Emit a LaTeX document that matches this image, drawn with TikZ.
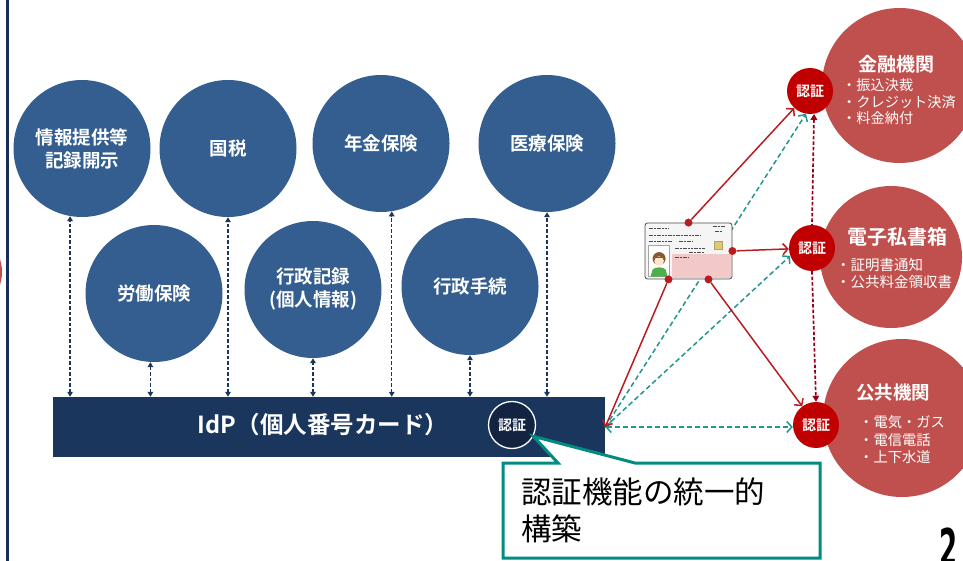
\documentclass[tikz,border=0pt]{standalone}
\usepackage{fontspec}
\setmainfont{Noto Sans CJK JP}[BoldFont={Noto Sans CJK JP Bold}]
\newfontfamily\numfont{DejaVu Sans}
\usetikzlibrary{arrows.meta,positioning}

\definecolor{svcblue}{RGB}{51,94,143}
\definecolor{idpnavy}{RGB}{27,54,93}
\definecolor{rulenavy}{RGB}{25,45,85}
\definecolor{authnavy}{RGB}{18,36,66}
\definecolor{authred}{RGB}{192,0,0}
\definecolor{orgred}{RGB}{192,80,77}
\definecolor{linkred}{RGB}{185,28,32}
\definecolor{chainred}{RGB}{150,0,25}
\definecolor{fedteal}{RGB}{35,150,140}
\definecolor{noteteal}{RGB}{0,140,128}
\definecolor{cardpink}{RGB}{242,200,200}
\definecolor{chipgold}{RGB}{225,200,120}

\tikzset{
  svc/.style={circle, fill=svcblue, minimum size=137pt, inner sep=0pt,
    text=white, align=center, font=\bfseries\fontsize{18.5}{23}\selectfont},
  org/.style={circle, fill=orgred, inner sep=0pt},
  orgtitle/.style={text=white, inner sep=0pt},
  orglist/.style={text=white, align=left, anchor=west, inner sep=0pt},
  auth/.style={circle, fill=authred, minimum size=46pt, inner sep=0pt,
    text=white, font=\bfseries\fontsize{14}{14}\selectfont},
  pin/.style={circle, fill=linkred, minimum size=8pt, inner sep=0pt},
  bus/.style={idpnavy, line width=1.2pt, dash pattern=on 3.5pt off 2pt,
    >={Triangle[length=5pt,width=5.5pt]}, <->},
  link/.style={linkred, line width=1.5pt,
    >={Straight Barb[length=5pt,width=11pt]}, ->},
  fed/.style={fedteal, line width=1.5pt, dash pattern=on 5pt off 3pt,
    >={Straight Barb[length=5pt,width=11pt]}},
  chain/.style={chainred, line width=1.7pt, dash pattern=on 3.5pt off 2pt,
    >={Triangle[length=6pt,width=6.5pt]}},
}

\begin{document}
\begin{tikzpicture}[x=1pt,y=-1pt]
  \path[use as bounding box, clip] (0,0) rectangle (963,561);

  % edge of the page: rule and the previous red circle
  \fill[orgred] (-40,272) circle (42pt);
  \draw[rulenavy, line width=3pt] (7.5,0) -- (7.5,561);

  % services on top of the IdP
  \node[svc] (info) at (82,148.5) {情報提供等\\記録開示};
  \node[svc] (tax) at (228,148.5) {国税};
  \node[svc] (pension) at (381,143.5) {年金保険};
  \node[svc] (medical) at (547,143.5) {医療保険};
  \node[svc] (labour) at (154,293.5) {労働保険};
  \node[svc] (records) at (313,289.5) {行政記録\\(個人情報)};
  \node[svc] (procedure) at (470,286.5) {行政手続};

  \node[fill=idpnavy, minimum width=552pt, minimum height=60pt, inner sep=0pt] (idp) at (329,427) {};
  \node[text=white, font=\bfseries\fontsize{23.5}{23.5}\selectfont] (idplabel) at (323,425) {IdP（個人番号カード）};
  \node[circle, fill=authnavy, draw=white, line width=1.3pt, minimum size=47pt, inner sep=0pt,
    text=white, font=\bfseries\fontsize{14}{14}\selectfont] (idpauth) at (512,425) {認証};

  \foreach \svc/\ang in {info/-100, tax/-90, pension/-81, medical/-90,
                         labour/-93, records/-90, procedure/-90}
    \draw[bus] (\svc.\ang |- idp.north) -- (\svc.\ang); % IdP<->service

  % relying parties
  \node[org, minimum size=155pt] (bank) at (899.5,85.5) {};
  \node[org, minimum size=142pt] (mailbox) at (891,257) {};
  \node[org, minimum size=158pt] (utility) at (902,418) {};

  \node[orgtitle, font=\bfseries\fontsize{19}{19}\selectfont] (banktitle) at (896,64) {金融機関};
  \node[orglist, font=\fontsize{14.2}{16.5}\selectfont] (banklist) at (842,102) {・振込決裁\\・クレジット決済\\・料金納付};
  \node[orgtitle, font=\bfseries\fontsize{20}{20}\selectfont] (mailtitle) at (897,237) {電子私書箱};
  \node[orglist, font=\fontsize{14.5}{17}\selectfont] (maillist) at (836,273.5) {・証明書通知\\・公共料金領収書};
  \node[orgtitle, font=\bfseries\fontsize{18.5}{18.5}\selectfont] (utiltitle) at (893,393) {公共機関};
  \node[orglist, font=\fontsize{14.3}{17.5}\selectfont] (utillist) at (859,440) {・電気・ガス\\・電信電話\\・上下水道};

  \node[auth] (bankauth) at (810,91) {認証};
  \node[auth] (mailauth) at (812,248) {認証};
  \node[auth] (utilauth) at (816,425) {認証};

  \draw[chain, <-] (bankauth.-80) -- (mailauth.north); %% bank<-mailbox
  \draw[chain, ->] (mailauth.south) -- (utilauth.north); %% mailbox->utility

  % federation from the IdP
  \draw[fed, ->] (idp.east) -- (bankauth.-100); %% IdP->bank
  \draw[fed, ->] (idp.east) -- (mailauth.200); %% IdP->mailbox
  \draw[fed, <->] (idp.east) -- (idp.east -| utilauth.west); %% IdP<->utility

  % the card itself
  \node[draw=gray!60!black, fill=gray!8, rounded corners=2.5pt, line width=0.8pt,
    minimum width=87pt, minimum height=56pt, inner sep=0pt] (card) at (688.5,251) {};
  \begin{scope}[shift={(card.north west)}]
    \fill[cardpink] (27,31) rectangle (86,55);
    \draw[gray!70, fill=white, line width=0.5pt] (4,23) rectangle (25,54);
    \fill[green!55!black!70] (6,54) -- (8,47) .. controls (10,44) and (19,44) .. (21,47) -- (23,54) -- cycle;
    \fill[brown!70!black] (14.5,36) circle (6.5pt);
    \fill[orange!20!white] (14.5,38.5) circle (4.8pt);
    \fill[brown!70!black] (9,34) rectangle (20,35.5);
    \draw[chipgold!80!black, fill=chipgold, line width=0.4pt] (70,19) rectangle (78,27);
    \foreach \y/\a/\b in {6/4/24, 13/4/56, 19/4/28, 19/34/48, 26/30/60, 30/44/60, 35/30/44}
      \draw[black!70, line width=1.3pt, dash pattern=on 2pt off 0.7pt] (\a,\y) -- (\b,\y);
    \draw[black!70, line width=1.1pt, dash pattern=on 2pt off 0.7pt] (68,4) -- (80,4) (70,8.5) -- (78,8.5);
  \end{scope}

  \node[pin] (pT) at (card.north) {};
  \node[pin] (pR) at (card.east) {};
  \node[pin] (pBL) at ([xshift=-20pt]card.south) {};
  \node[pin] (pBR) at ([xshift=20pt]card.south) {};

  \draw[link] (pT) -- (bankauth); %% card->bank
  \draw[link] (pR) -- (mailauth); %% card->mailbox
  \draw[link] (pBR) -- (utilauth); %% card->utility
  \draw[link] (pBL) -- (idp.east); %% card->IdP

  % callout
  \coordinate (noteNW) at (503,463);
  \coordinate (noteSE) at (820,558);
  \draw[noteteal, line width=3pt, fill=white]
    (noteNW) -- (558,463) -- (idpauth.-28) -- (635,463) -- (noteNW -| noteSE)
    -- (noteSE) -- (noteNW |- noteSE) -- cycle;
  \node[anchor=west, align=left, inner sep=0pt, font=\fontsize{30.5}{37}\selectfont] (note) at (521,510.5) {認証機能の統一的\\構築};

  \node[anchor=base, inner sep=0pt, font=\numfont\bfseries\fontsize{52}{52}\selectfont] (pageno) at (949,566) {\scalebox{0.5}[1]{2}};
\end{tikzpicture}
\end{document}
